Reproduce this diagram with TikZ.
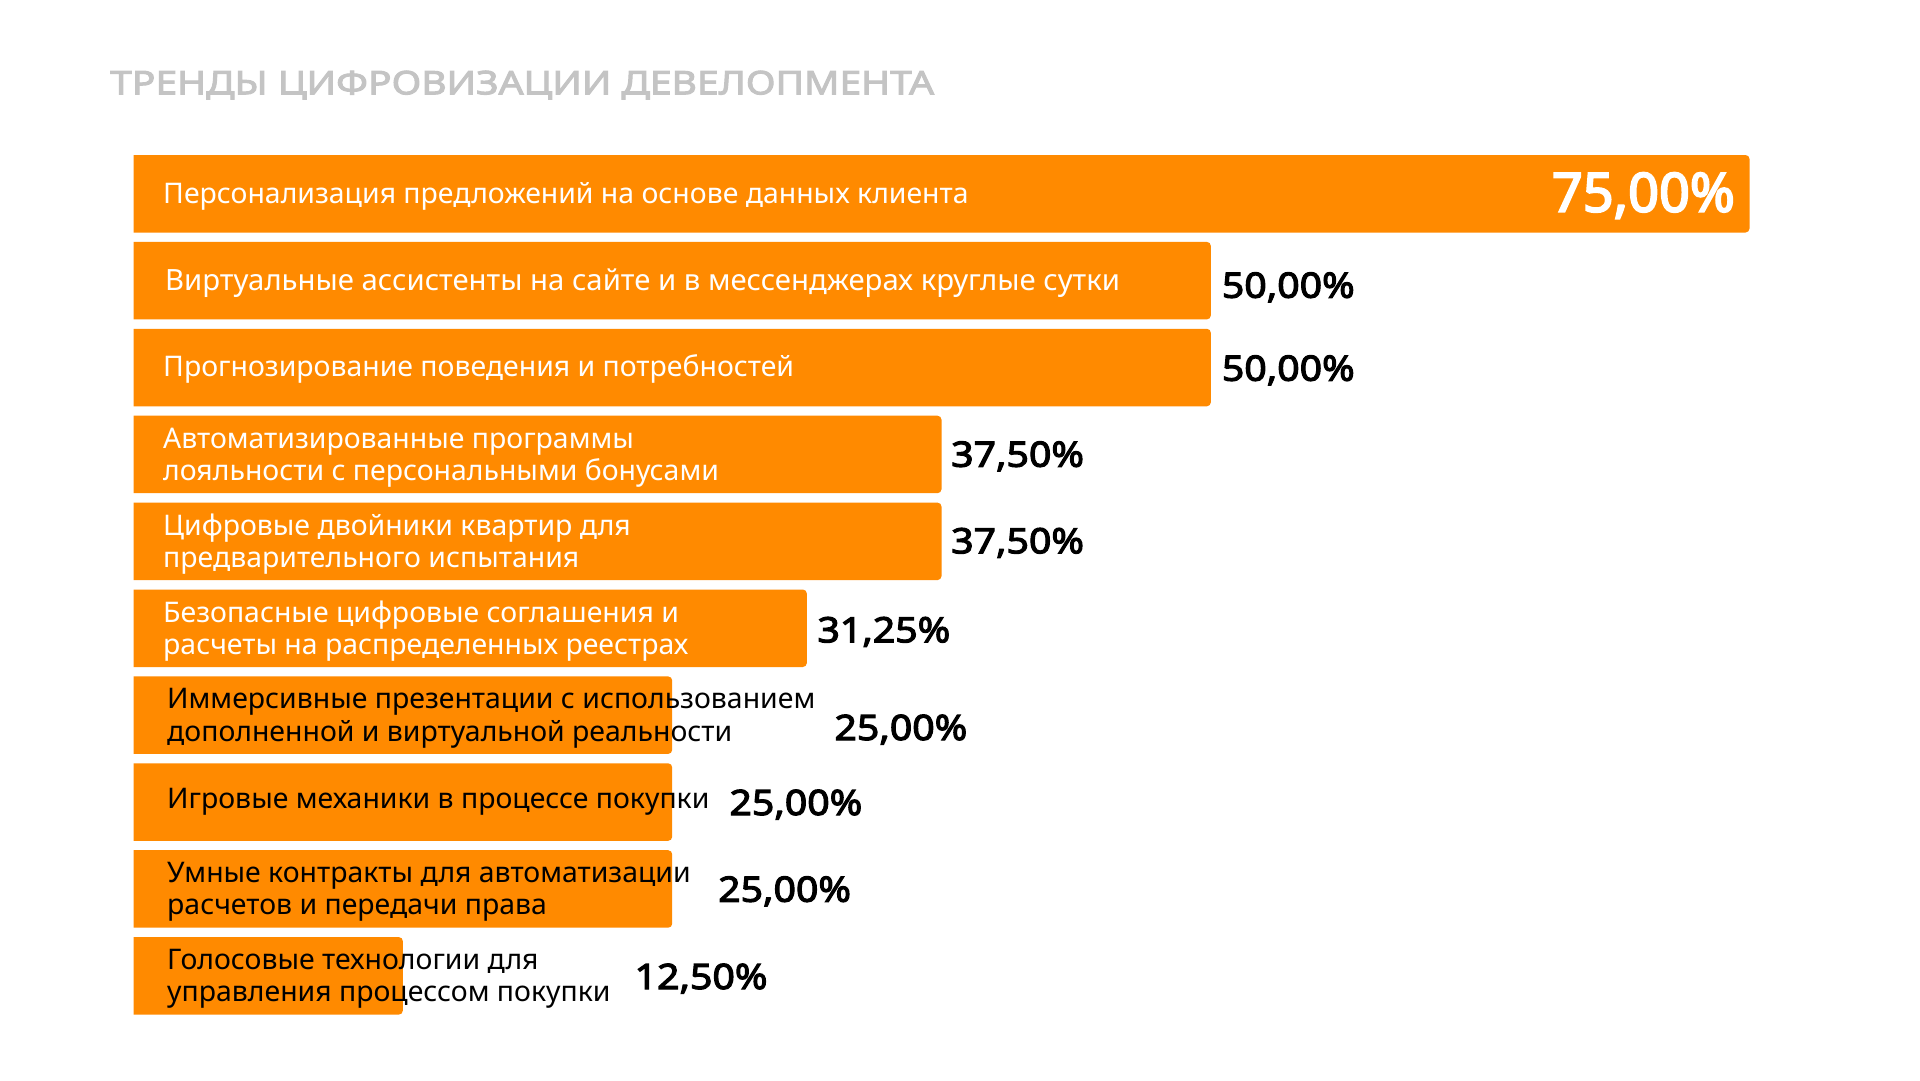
\documentclass[tikz,border=0pt]{standalone}
\usepackage{fontspec}
\setmainfont{Noto Sans}
\newfontfamily\titlefont{Noto Sans}[FakeBold=3, FakeStretch=1.2]
\newfontfamily\valfont{Noto Sans}[FakeBold=3.2, FakeStretch=1.12]
\newfontfamily\bigvalfont{Noto Sans}[FakeBold=3.5]
\usetikzlibrary{positioning}

\definecolor{barorange}{HTML}{FF8A00}
\definecolor{titlegray}{HTML}{C4C4C4}

\begin{document}
\begin{tikzpicture}[x=1pt,y=-1pt,
    lab/.style={anchor=west, inner sep=0pt, align=left, font=\fontsize{28.4}{32.4}\selectfont},
    labone/.style={anchor=base west, inner sep=0pt, font=\fontsize{28.4}{32.4}\selectfont},
    val/.style={anchor=base west, inner sep=0pt, font=\valfont\fontsize{35}{35}\selectfont}]

    \useasboundingbox[fill=white] (0,0) rectangle (1920,1080);

    % draw title
    \node[anchor=base west, inner sep=0pt, text=titlegray, font=\titlefont\fontsize{32.5}{32.5}\selectfont] (title) at (110,94.3) {ТРЕНДЫ ЦИФРОВИЗАЦИИ ДЕВЕЛОПМЕНТА};

    % draw bars (75% = 1616)
    \foreach \i/\v in {0/75,1/50,2/50,3/37.5,4/37.5,5/31.25,6/25,7/25,8/25,9/12.5}
    \fill[barorange] (133.5,{155+86.9*\i}) [rounded corners=4pt] -- ({133.5+21.547*\v},{155+86.9*\i})
        -- ({133.5+21.547*\v},{232.5+86.9*\i}) [sharp corners] -- (133.5,{232.5+86.9*\i}) -- cycle;

    % draw labels
    \node[labone, text=white] (lab1) at (163,203) {Персонализация предложений на основе данных клиента};
    \node[labone, text=white, font=\fontsize{29.3}{32.4}\selectfont] (lab2) at (165,290) {Виртуальные ассистенты на сайте и в мессенджерах круглые сутки};
    \node[labone, text=white] (lab3) at (163,376.6) {Прогнозирование поведения и потребностей};
    \node[lab, text=white] (lab4) at (163,457.5) {Автоматизированные программы\\лояльности с персональными бонусами};
    \node[lab, text=white] (lab5) at (163,544.4) {Цифровые двойники квартир для\\предварительного испытания};
    \node[lab, text=white] (lab6) at (163,631.3) {Безопасные цифровые соглашения и\\расчеты на распределенных реестрах};
    \node[lab] (lab7) at (167,718.2) {Иммерсивные презентации с использованием\\дополненной и виртуальной реальности};
    \node[labone] (lab8) at (167,808.3) {Игровые механики в процессе покупки};
    \node[lab] (lab9) at (167,892) {Умные контракты для автоматизации\\расчетов и передачи права};
    \node[lab] (lab10) at (167,978.9) {Голосовые технологии для\\управления процессом покупки};

    % draw values
    \node[anchor=base east, inner sep=0pt, text=white, font=\bigvalfont\fontsize{54}{54}\selectfont] (val1) at (1735,211.7) {75,00\%};
    \node[val] (val2) at (1221.7,297.7) {50,00\%};
    \node[val] (val3) at (1221.7,380.7) {50,00\%};
    \node[val] (val4) at (951,466.7) {37,50\%};
    \node[val] (val5) at (951,553.3) {37,50\%};
    \node[val] (val6) at (817.3,642.3) {31,25\%};
    \node[val] (val7) at (834.3,740) {25,00\%};
    \node[val] (val8) at (729.3,815) {25,00\%};
    \node[val] (val9) at (718,901.7) {25,00\%};
    \node[val] (val10) at (634.5,989) {12,50\%};

\end{tikzpicture}
\end{document}
